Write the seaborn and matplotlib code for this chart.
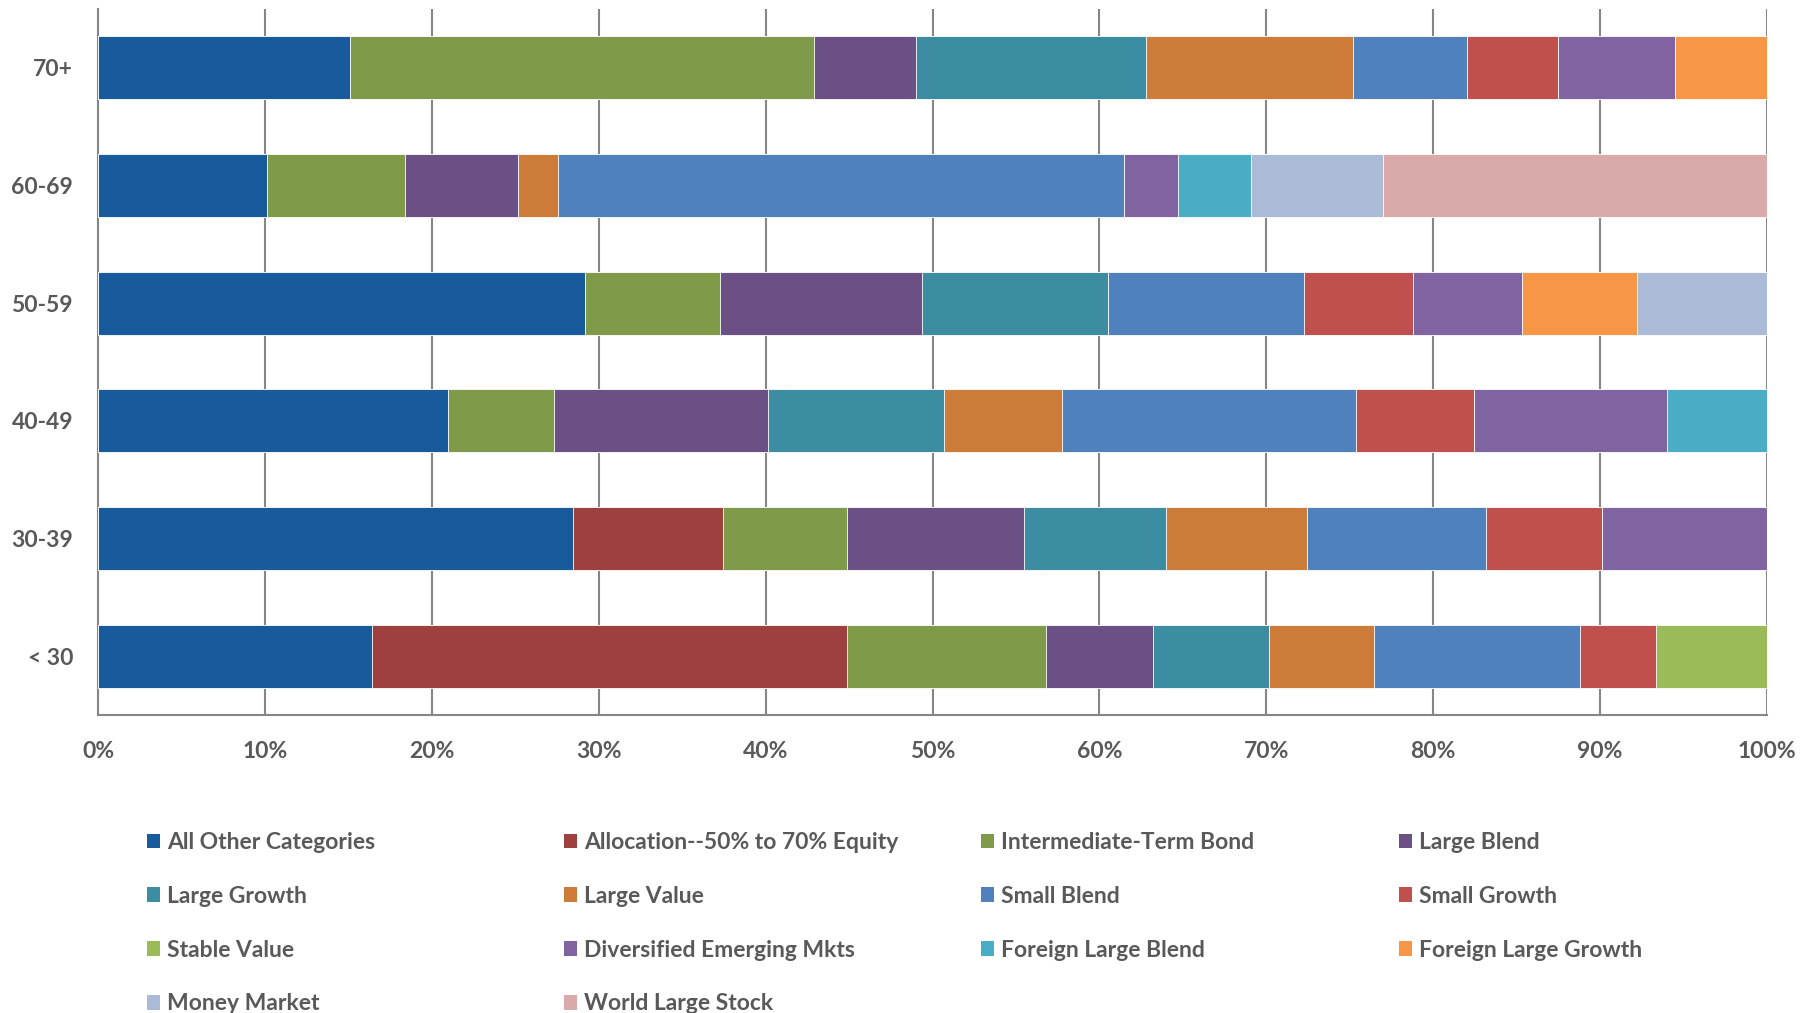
import numpy as np
import pandas as pd
import matplotlib
matplotlib.use("Agg")
import matplotlib.pyplot as plt
from matplotlib.patches import Patch
import seaborn as sns

# Age bands (top to bottom) and fund categories (stacking order, left to right)
age_groups = ["70+", "60-69", "50-59", "40-49", "30-39", "< 30"]
categories = [
    "All Other Categories", "Allocation--50% to 70% Equity", "Intermediate-Term Bond",
    "Large Blend", "Large Growth", "Large Value", "Small Blend", "Small Growth",
    "Stable Value", "Diversified Emerging Mkts", "Foreign Large Blend",
    "Foreign Large Growth", "Money Market", "World Large Stock",
]
colors = [
    "#185B9D", "#9E413E", "#7F9A48", "#6A5085", "#3C8CA2", "#CC7B38", "#4F81BD",
    "#C0504D", "#9BBB59", "#8064A2", "#4BACC6", "#F79646", "#AABAD7", "#D9AAA9",
]

# Share (%) of each category per age band, ordered as age_groups
all_other       = [15.1, 10.1, 29.2, 20.95, 28.45, 16.4]
allocation      = [0, 0, 0, 0, 9.0, 28.45]
interm_bond     = [27.8, 8.3, 8.05, 6.35, 7.4, 11.95]
large_blend     = [6.1, 6.75, 12.1, 12.85, 10.65, 6.4]
large_growth    = [13.8, 0, 11.15, 10.55, 8.5, 6.95]
large_value     = [12.4, 2.4, 0, 7.05, 8.45, 6.3]
small_blend     = [6.8, 33.95, 11.75, 17.6, 10.7, 12.35]
small_growth    = [5.5, 0, 6.55, 7.1, 6.95, 4.55]
stable_value    = [0, 0, 0, 0, 0, 6.65]
div_emerging    = [7.0, 3.2, 6.5, 11.55, 9.9, 0]
foreign_blend   = [0, 4.4, 0, 6.0, 0, 0]
foreign_growth  = [5.5, 0, 6.9, 0, 0, 0]
money_market    = [0, 7.9, 7.8, 0, 0, 0]
world_large     = [0, 23.0, 0, 0, 0, 0]

series = [all_other, allocation, interm_bond, large_blend, large_growth, large_value,
          small_blend, small_growth, stable_value, div_emerging, foreign_blend,
          foreign_growth, money_market, world_large]

df = pd.DataFrame(np.array(series).T, index=age_groups, columns=categories)
df = df.div(df.sum(axis=1), axis=0) * 100  # 100% stacked
cum = df.cumsum(axis=1)

sns.set_theme(style="white")
plt.rcParams["font.family"] = ["Lato", "DejaVu Sans"]
text_color = "#595959"
grid_color = "#868686"
font_size = 16.5

fig = plt.figure(figsize=(18.17, 10.13), dpi=100)
ax = fig.add_axes([98 / 1817, 1 - 715 / 1013, (1767 - 98) / 1817, (715 - 9) / 1013])

# Draw cumulative totals from the outermost segment inwards so each band shows its share
for cat, col in zip(reversed(categories), reversed(colors)):
    plot_df = pd.DataFrame({"age": age_groups, "total": cum[cat].values})
    sns.barplot(data=plot_df, x="total", y="age", order=age_groups, orient="h",
                color=col, width=0.534, edgecolor="white", linewidth=0.6,
                saturation=1, ax=ax, zorder=3)

ax.set_xlim(0, 100)
ax.set_ylim(len(age_groups) - 0.5, -0.5)
ax.set_xticks(np.arange(0, 101, 10))
ax.set_xticklabels([f"{v}%" for v in range(0, 101, 10)])
ax.set_xlabel("")
ax.set_ylabel("")
ax.xaxis.grid(True, color=grid_color, linewidth=1.5, zorder=0)
ax.set_axisbelow(True)
ax.tick_params(axis="x", length=0, pad=18.5, labelsize=font_size, labelcolor=text_color)
ax.tick_params(axis="y", length=0, pad=18, labelsize=font_size, labelcolor=text_color)
for lab in ax.get_xticklabels() + ax.get_yticklabels():
    lab.set_fontweight("bold")
for side in ["top", "right"]:
    ax.spines[side].set_visible(False)
for side in ["left", "bottom"]:
    ax.spines[side].set_color(grid_color)
    ax.spines[side].set_linewidth(1.5)

# Legend laid out row by row in four evenly spaced columns
ncols = 4
col_x = [147, 564, 981, 1399]
for c in range(ncols):
    idx = list(range(c, len(categories), ncols))
    handles = [Patch(facecolor=colors[i], edgecolor="none") for i in idx]
    labels = [categories[i] for i in idx]
    leg = fig.legend(handles, labels, loc="upper left",
                     bbox_to_anchor=(col_x[c] / 1817, 1 - 832 / 1013),
                     frameon=False, fontsize=font_size, handlelength=0.57, handleheight=0.62,
                     handletextpad=0.3, labelspacing=1.43, borderpad=0, borderaxespad=0)
    for t in leg.get_texts():
        t.set_color(text_color)
        t.set_fontweight("bold")

fig.savefig("out.png", dpi=100)
